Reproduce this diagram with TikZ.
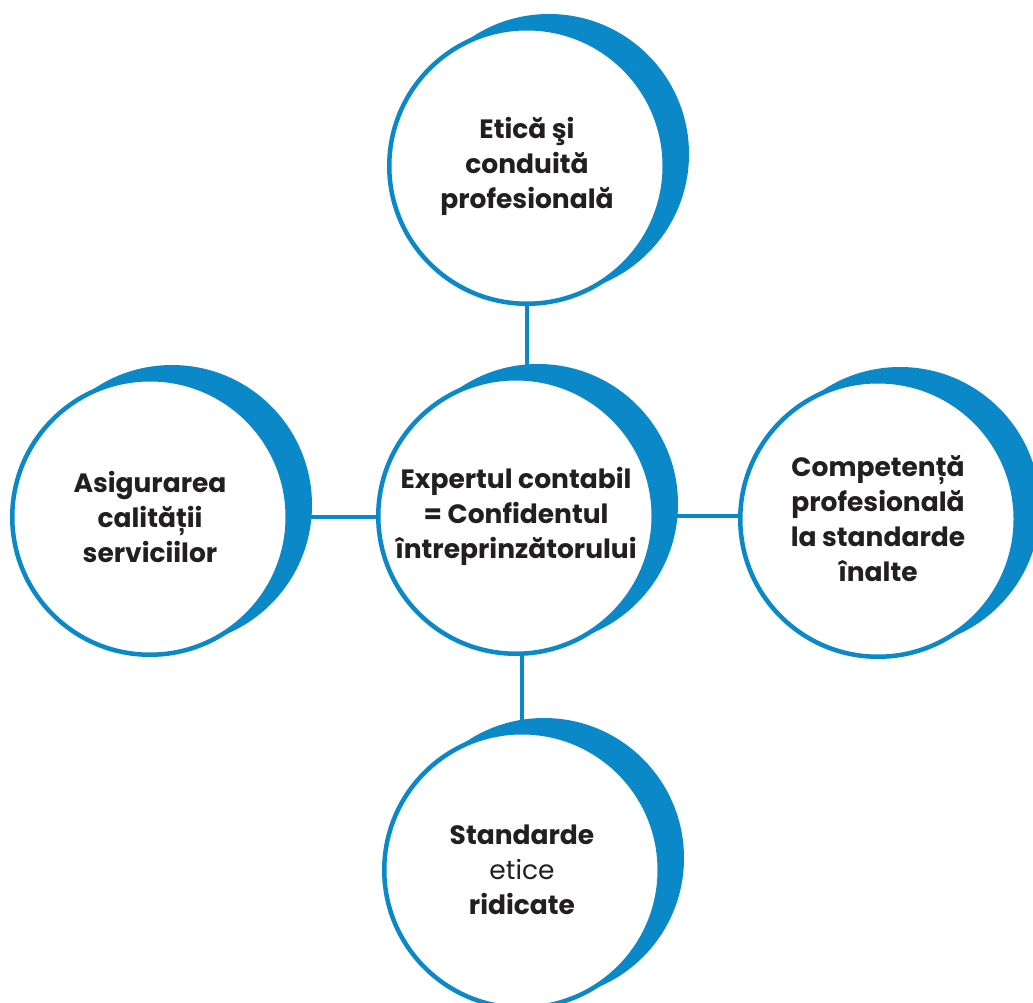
\documentclass[tikz,border=0pt]{standalone}
\usepackage{fontspec}
\setmainfont{Poppins}
\definecolor{cblue}{HTML}{0A88C8}
\definecolor{ctext}{HTML}{231F20}
\pgfdeclarelayer{bg}
\pgfsetlayers{bg,main}
\tikzset{
  bubble/.style={circle, draw=cblue, line width=4.5pt, fill=white, minimum size=275.5pt,
    inner sep=0pt, align=center, text=ctext, font=\fontsize{26.5}{35}\selectfont\bfseries},
  link/.style={draw=cblue, line width=4pt},
  moon/.style={fill=cblue}
}
\begin{document}
\begin{tikzpicture}[x=1pt,y=1pt]
\useasboundingbox (0,0) rectangle (1033,-1003);
\node[bubble] (T) at (527,-166) {Etică şi\\conduită\\profesională};
\node[bubble] (C) at (516,-516) {Expertul contabil\\= Confidentul\\întreprinzătorului};
\node[bubble] (L) at (150,-517) {Asigurarea\\calității\\serviciilor};
\node[bubble] (R) at (878,-519) {Competență\\profesională\\la standarde\\înalte};
\node[bubble] (B) at (522,-870) {Standarde\\{\mdseries etice}\\ridicate};
\begin{pgfonlayer}{bg}
\foreach \n in {T,C,L,R,B} \fill[moon] ([shift={(22,12)}]\n.center) circle (140);
\draw[link] (T.south) -- (T.south |- C.north);
\draw[link] (B.north) -- (B.north |- C.south);
\draw[link] (L.east) -- (L.east -| C.west);
\draw[link] (C.east) -- (C.east -| R.west);
\end{pgfonlayer}
\end{tikzpicture}
\end{document}
